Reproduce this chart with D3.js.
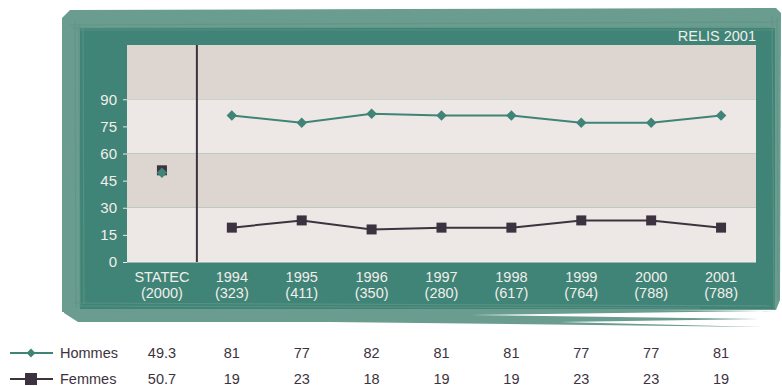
<!DOCTYPE html>
<html>
<head>
<meta charset="utf-8">
<script src="https://cdn.jsdelivr.net/npm/d3@7"></script>
<style>
  body { margin: 0; background: #fff; }
  svg text { font-family: "Liberation Sans", Arial, sans-serif; }
</style>
</head>
<body>
<div id="chart"></div>
<script>
const categories = ["STATEC", "1994", "1995", "1996", "1997", "1998", "1999", "2000", "2001"];
const sublabels = ["(2000)", "(323)", "(411)", "(350)", "(280)", "(617)", "(764)", "(788)", "(788)"];
const hommes = [49.3, 81, 77, 82, 81, 81, 77, 77, 81];
const femmes = [50.7, 19, 23, 18, 19, 19, 23, 23, 19];
const yTicks = [0, 15, 30, 45, 60, 75, 90];
const bands = [[0, 30], [30, 60], [60, 90], [90, 120]];

const W = 782, H = 386;
const teal = "#3f8477", tealLight = "#6a9d8f", dark = "#3d3340";

const svg = d3.select("#chart").append("svg")
  .attr("width", W).attr("height", H);

// sketchy frame
svg.append("path")
  .attr("d", "M62,18 L70,10 L400,9 L776,8 L781,13 L780,300 L776,310 L62,312 Z")
  .attr("fill", tealLight);
svg.append("path")
  .attr("d", "M62,300 L64,313 L78,322 L330,322 L762,327 L560,322 L760,319 L470,315 L773,311 L62,305 Z")
  .attr("fill", tealLight);
svg.append("rect")
  .attr("x", 80).attr("y", 28).attr("width", 695).attr("height", 281)
  .attr("fill", teal);
// brush strokes on the frame
const strokes = [
  "M70,25 L775,22", "M72,28 L770,27", "M76,30 L776,30",
  "M75,22 L76,308", "M79,24 L80,306", "M83,28 L84,304",
  "M772,16 L774,308", "M777,18 L778,300",
  "M74,303 L770,306", "M78,306 L700,308"
];
svg.append("g").selectAll("path").data(strokes).join("path")
  .attr("d", d => d)
  .attr("stroke", "#5e9586").attr("stroke-width", 1.2).attr("fill", "none")
  .attr("opacity", 0.8);

const margin = { left: 127, right: 26, top: 45 };
const plotBottom = 262;

const x = d3.scaleBand().domain(categories).range([margin.left, W - margin.right]);
const y = d3.scaleLinear().domain([0, 120]).range([plotBottom, margin.top]);

// alternating bands
svg.append("g").selectAll("rect").data(bands).join("rect")
  .attr("x", margin.left)
  .attr("y", d => y(d[1]))
  .attr("width", x.range()[1] - margin.left)
  .attr("height", d => y(d[0]) - y(d[1]))
  .attr("fill", (d, i) => i % 2 === 0 ? "#ede8e5" : "#ddd5d0");

// y axis
const yAxis = svg.append("g")
  .attr("transform", `translate(${margin.left},0)`)
  .call(d3.axisLeft(y).tickValues(yTicks).tickSize(4).tickPadding(6));
yAxis.select(".domain").remove();
yAxis.selectAll(".tick line").attr("stroke", "#ede8e5");
yAxis.selectAll(".tick text")
  .attr("fill", "#f2eeea").style("font-size", "15px");

// baseline
svg.append("line")
  .attr("x1", margin.left).attr("x2", x.range()[1])
  .attr("y1", plotBottom).attr("y2", plotBottom)
  .attr("stroke", "#f2eeea").attr("stroke-width", 1);

// divider between STATEC and survey years
svg.append("line")
  .attr("x1", x("1994")).attr("x2", x("1994"))
  .attr("y1", margin.top).attr("y2", plotBottom)
  .attr("stroke", dark).attr("stroke-width", 2);

// category labels
const cx = d => x(d) + x.bandwidth() / 2;
const labels = svg.append("g").selectAll("text").data(categories).join("text")
  .attr("x", cx)
  .attr("text-anchor", "middle")
  .attr("fill", "#f2eeea")
  .style("font-size", "14.5px");
labels.append("tspan").attr("x", cx).attr("y", 282).text(d => d);
labels.append("tspan").attr("x", cx).attr("y", 298).text((d, i) => sublabels[i]);

// RELIS 2001
svg.append("text")
  .attr("x", 756).attr("y", 41)
  .attr("text-anchor", "end")
  .attr("fill", "#f2eeea")
  .style("font-size", "14.5px")
  .text("RELIS 2001");

const line = d3.line().x(d => cx(d.cat)).y(d => y(d.v));
const mk = arr => categories.map((c, i) => ({ cat: c, v: arr[i] }));
const hData = mk(hommes), fData = mk(femmes);

// lines (survey years only)
svg.append("path").datum(fData.slice(1))
  .attr("d", line).attr("fill", "none")
  .attr("stroke", dark).attr("stroke-width", 2);
svg.append("path").datum(hData.slice(1))
  .attr("d", line).attr("fill", "none")
  .attr("stroke", teal).attr("stroke-width", 2);

// markers
const sq = 10;
svg.append("g").selectAll("rect").data(fData).join("rect")
  .attr("x", d => cx(d.cat) - sq / 2)
  .attr("y", d => y(d.v) - sq / 2)
  .attr("width", sq).attr("height", sq)
  .attr("fill", dark);
const diamond = d3.symbol().type(d3.symbolDiamond2).size(70);
svg.append("g").selectAll("path").data(hData).join("path")
  .attr("d", diamond)
  .attr("transform", d => `translate(${cx(d.cat)},${y(d.v)})`)
  .attr("fill", teal);

// data table with legend
const rows = [
  { name: "Hommes", values: hommes, color: teal, y: 353, marker: "diamond" },
  { name: "Femmes", values: femmes, color: dark, y: 379, marker: "square" }
];
rows.forEach(r => {
  const g = svg.append("g");
  g.append("line")
    .attr("x1", 10).attr("x2", 53).attr("y1", r.y).attr("y2", r.y)
    .attr("stroke", r.color).attr("stroke-width", 2);
  if (r.marker === "diamond") {
    g.append("path").attr("d", d3.symbol().type(d3.symbolDiamond2).size(50))
      .attr("transform", `translate(31,${r.y})`).attr("fill", r.color);
  } else {
    g.append("rect").attr("x", 25).attr("y", r.y - 6)
      .attr("width", 12).attr("height", 12).attr("fill", r.color);
  }
  g.append("text")
    .attr("x", 60).attr("y", r.y + 5)
    .attr("fill", dark).style("font-size", "14.5px")
    .text(r.name);
  g.selectAll("text.val").data(r.values).join("text")
    .attr("class", "val")
    .attr("x", (d, i) => cx(categories[i]))
    .attr("y", r.y + 5)
    .attr("text-anchor", "middle")
    .attr("fill", dark).style("font-size", "14.5px")
    .text(d => d);
});
</script>
</body>
</html>
